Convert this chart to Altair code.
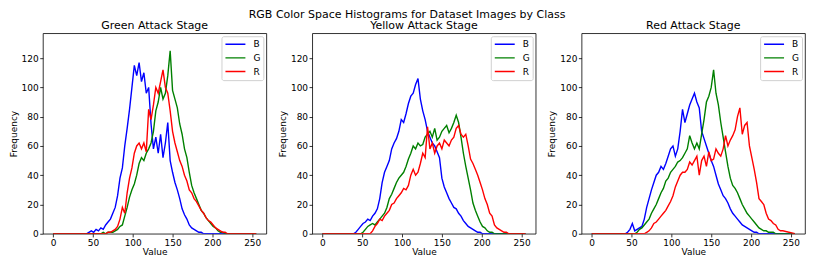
import altair as alt
import pandas as pd

# Bin positions (pixel values) at which frequencies were read
BINS = [0] + list(range(36, 241, 3)) + [255]
CHANNELS = ["B", "G", "R"]
COLORS = ["#0000ff", "#008000", "#ff0000"]
TITLES = ["Green Attack Stage", "Yellow Attack Stage", "Red Attack Stage"]
X_TICKS = [0, 50, 100, 150, 200, 250]
Y_TICKS = [0, 20, 40, 60, 80, 100, 120]

# ---- Green Attack Stage (values for bins 36..240 step 3) ----
g_blue = [0, 0, 0, 1, 2, 1, 3, 2, 4, 3,
          6, 8, 10, 14, 18, 26, 38, 45, 60, 72,
          85, 100, 115, 108, 117, 104, 110, 96, 100, 75,
          58, 66, 55, 68, 52, 62, 76, 50, 42, 35,
          30, 24, 17, 13, 10, 6, 4, 3, 2, 1,
          1, 0, 0, 0, 0, 0, 0, 0, 0, 0,
          0, 0, 0, 0, 0, 0, 0, 0, 0]
g_green = [0, 0, 0, 0, 0, 0, 0, 0, 0, 1,
           0, 1, 1, 1, 2, 3, 5, 6, 12, 18,
           25, 30, 34, 40, 48, 52, 50, 55, 58, 62,
           70, 84, 90, 100, 92, 96, 108, 125, 98, 92,
           86, 75, 68, 58, 52, 42, 33, 28, 24, 20,
           16, 14, 11, 9, 7, 5, 4, 2, 1, 1,
           0, 0, 0, 0, 0, 0, 0, 0, 0]
g_red = [0, 0, 0, 0, 0, 0, 0, 0, 0, 0,
         0, 1, 1, 2, 3, 5, 10, 18, 14, 28,
         38, 45, 55, 60, 62, 58, 62, 56, 85, 78,
         88, 100, 96, 104, 112, 100, 96, 84, 70, 62,
         56, 50, 46, 40, 36, 30, 28, 24, 22, 19,
         16, 14, 11, 9, 8, 6, 4, 3, 2, 1,
         1, 0, 0, 0, 0, 0, 0, 0, 0]

# ---- Yellow Attack Stage ----
y_blue = [0, 0, 1, 3, 5, 7, 8, 10, 9, 12,
          14, 17, 24, 35, 42, 46, 50, 58, 62, 65,
          70, 78, 76, 82, 89, 94, 96, 102, 106, 92,
          84, 78, 70, 66, 62, 60, 56, 52, 38, 32,
          28, 24, 21, 18, 17, 14, 12, 9, 7, 5,
          4, 3, 2, 1, 1, 0, 0, 0, 0, 0,
          0, 0, 0, 0, 0, 0, 0, 0, 0]
y_green = [0, 0, 0, 0, 0, 1, 3, 5, 6, 7,
           6, 8, 10, 12, 14, 18, 24, 27, 31, 35,
           38, 40, 42, 46, 51, 55, 60, 58, 62, 60,
           61, 66, 68, 70, 66, 72, 64, 66, 70, 72,
           74, 69, 72, 76, 81, 76, 66, 55, 46, 38,
           30, 21, 16, 12, 8, 5, 4, 2, 1, 1,
           0, 0, 0, 0, 0, 0, 0, 0, 0]
y_red = [0, 0, 0, 0, 0, 0, 0, 0, 0, 2,
         5, 7, 10, 9, 12, 14, 16, 20, 21, 24,
         26, 28, 31, 30, 33, 40, 44, 40, 42, 48,
         55, 52, 73, 58, 62, 55, 60, 62, 58, 64,
         62, 60, 64, 66, 72, 74, 68, 66, 68, 60,
         51, 48, 44, 40, 35, 30, 24, 20, 14, 12,
         6, 4, 3, 2, 1, 1, 0, 0, 0]

# ---- Red Attack Stage ----
r_blue = [0, 0, 0, 1, 3, 7, 2, 3, 4, 5,
          10, 18, 24, 30, 35, 40, 42, 46, 44, 48,
          53, 58, 60, 53, 58, 70, 85, 76, 82, 88,
          92, 96, 90, 86, 70, 65, 60, 55, 50, 46,
          40, 34, 30, 26, 24, 21, 17, 14, 12, 10,
          8, 6, 5, 4, 3, 2, 1, 1, 0, 0,
          0, 0, 0, 0, 0, 0, 0, 0, 0]
r_green = [0, 0, 0, 0, 0, 0, 0, 1, 3, 4,
           6, 8, 10, 14, 17, 20, 24, 28, 31, 36,
           38, 42, 44, 46, 49, 50, 52, 55, 58, 67,
           62, 58, 62, 58, 68, 78, 90, 94, 100, 112,
           96, 88, 76, 66, 56, 46, 38, 33, 31, 28,
           24, 20, 17, 14, 12, 10, 8, 6, 4, 3,
           2, 2, 1, 1, 1, 0, 0, 0, 0]
r_red = [0, 0, 0, 0, 0, 0, 0, 0, 0, 0,
         0, 1, 2, 4, 7, 8, 10, 12, 14, 16,
         19, 22, 26, 32, 36, 40, 42, 42, 44, 49,
         47, 50, 53, 40, 50, 53, 46, 56, 50, 51,
         58, 55, 53, 58, 67, 60, 64, 67, 71, 80,
         86, 68, 74, 76, 60, 52, 44, 35, 24, 22,
         20, 14, 10, 9, 7, 6, 3, 2, 2]

PANELS = [
    (TITLES[0], [g_blue, g_green, g_red]),
    (TITLES[1], [y_blue, y_green, y_red]),
    (TITLES[2], [r_blue, r_green, r_red]),
]

FONT = "DejaVu Sans"


def make_panel(title, series):
    rows = []
    for ch, vals in zip(CHANNELS, series):
        full = [0] + vals + [0]
        for x, v in zip(BINS, full):
            rows.append({"value": x, "freq": v, "channel": ch})
    df = pd.DataFrame(rows)
    base = alt.Chart(df).mark_line(strokeWidth=1.4, clip=True).encode(
        x=alt.X("value:Q",
                scale=alt.Scale(domain=[-12.75, 267.75], nice=False, zero=False),
                axis=alt.Axis(values=X_TICKS, title="Value", format="d")),
        y=alt.Y("freq:Q",
                scale=alt.Scale(domain=[0, 137], nice=False),
                axis=alt.Axis(values=Y_TICKS, title="Frequency", format="d")),
        color=alt.Color("channel:N",
                        scale=alt.Scale(domain=CHANNELS, range=COLORS),
                        legend=alt.Legend(title=None, orient="top-right", offset=3,
                                          symbolType="M-1,0L1,0", symbolSize=400,
                                          symbolStrokeWidth=1.4, labelFontSize=9,
                                          labelFont=FONT, labelOffset=7,
                                          clipHeight=10, padding=3, rowPadding=3.7,
                                          fillColor="white", strokeColor="#d0d0d0",
                                          cornerRadius=2)),
    )
    layers = [base.transform_filter(alt.datum.channel == ch) for ch in CHANNELS]
    return alt.layer(*layers).properties(
        width=224, height=201,
        title=alt.TitleParams(title, fontSize=11, font=FONT, fontWeight="normal",
                              color="black", offset=2),
    )


chart = alt.hconcat(*[make_panel(t, s) for t, s in PANELS], spacing=10).properties(
    title=alt.TitleParams("RGB Color Space Histograms for Dataset Images by Class",
                          fontSize=11, font=FONT, fontWeight="normal", color="black",
                          anchor="middle", offset=0),
    padding={"left": 0, "top": 0, "right": 0, "bottom": -2},
    background="white",
).resolve_scale(color="independent").resolve_legend(color="independent").configure_view(
    stroke="black", strokeWidth=0.8
).configure_axis(
    grid=False, domain=False, tickColor="black", tickSize=3.2, tickWidth=0.8,
    labelFont=FONT, labelFontSize=9, labelColor="black", labelPadding=1.5,
    titleFont=FONT, titleFontSize=9, titleFontWeight="normal", titleColor="black",
    titlePadding=0,
).configure_axisY(titlePadding=3)

chart.save("out.html", embed_options={"renderer": "svg", "actions": False})
